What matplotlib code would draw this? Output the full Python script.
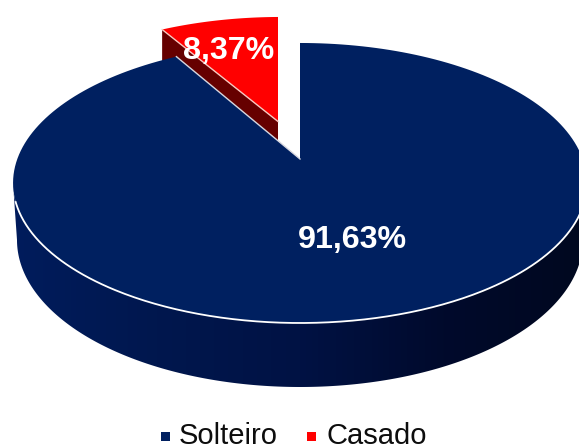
import numpy as np
import matplotlib
matplotlib.use('Agg')
import matplotlib.pyplot as plt
from matplotlib.colors import LinearSegmentedColormap
from matplotlib.patches import Polygon, Rectangle

categories = ['Solteiro', 'Casado']
shares = [91.63, 8.37]
labels = ['91,63%', '8,37%']
colors = ['#002060', '#ff0000']
side_red = '#660000'
side_colors = ['#001c5c', '#00174e', '#001244', '#000a2c', '#00081f']

# perspective of the pie, unit circle -> pixels
APEX_X, APEX_Y = 300.0, 159.0
SCALE_X, SCALE_Y, TILT = 282.7, 135.9, 0.1714
EXPLODE = 0.30


def project(x, y):
    """Unit circle coordinates to pixel coordinates"""
    w = 1 + TILT * y
    return APEX_X + SCALE_X * x / w, APEX_Y - SCALE_Y * y / w


def arc(start, end, dx=0.0, dy=0.0, n=200):
    """Rim points, angles clockwise from 12 o'clock in degrees"""
    t = np.radians(np.linspace(start, end, n))
    return project(np.sin(t) + dx, np.cos(t) + dy)


plt.rcParams['font.family'] = ['Liberation Sans', 'DejaVu Sans']
fig = plt.figure(figsize=(5.79, 4.46), dpi=100)
ax = fig.add_axes([0, 0, 1, 1])
ax.set_xlim(0, 579)
ax.set_ylim(446, 0)
ax.axis('off')

blue_end = shares[0] / 100 * 360

# exploded red slice, side first
mid = np.radians(blue_end + shares[1] / 100 * 180)
off_x, off_y = EXPLODE * np.sin(mid), EXPLODE * np.cos(mid)
ax0, ay0 = project(off_x, off_y)
rx, ry = arc(blue_end, 360, off_x, off_y)
# the right edge of this slice is upright in the reference
ax0 -= 1
rx = np.minimum(rx - 1, ax0)
ry = ry + 1.5
ax.add_patch(Polygon([(rx[0], ry[0]), (ax0, ay0), (ax0, ay0 + 19), (rx[0], ry[0] + 32)],
                     closed=True, fc=side_red, ec='none', zorder=1))
ax.add_patch(Polygon(np.r_[[(ax0, ay0)], np.c_[rx, ry]], closed=True,
                     fc=colors[1], ec='none', zorder=2))
ax.plot([rx[0], ax0], [ry[0], ay0], color='#f8c8c0', lw=1.0, zorder=3)

# wall of the big slice
bx, by = arc(0, blue_end)
cx, cy = 300.0, 183.0
rim_t = np.radians(np.linspace(0, 180, 300))
low_x = cx + 283 * np.cos(rim_t)
low_y = 240 + 147 * np.sin(rim_t)
top_x = cx + 287 * np.cos(rim_t)
top_y = cy + 140 * np.sin(rim_t)
wall = Polygon(np.r_[np.c_[top_x, top_y], np.c_[low_x, low_y][::-1]], closed=True,
               fc='none', ec='none')
ax.add_patch(wall)
cmap = LinearSegmentedColormap.from_list('wall', side_colors[::-1])
grad = ax.imshow(np.linspace(1, 0, 256).reshape(1, -1), cmap=cmap, aspect='auto',
                 extent=(13, 587, 446, 0), vmin=0, vmax=1, zorder=4)
grad.set_clip_path(wall)
ax.set_xlim(0, 579)
ax.set_ylim(446, 0)

# top face of the big slice
ax.add_patch(Polygon(np.r_[[(APEX_X, APEX_Y)], np.c_[bx, by]], closed=True,
                     fc=colors[0], ec='none', zorder=5))
ax.plot(top_x[top_y > 201], top_y[top_y > 201], color='white', lw=1.3, zorder=6)
ax.plot([bx[-1], APEX_X], [by[-1], APEX_Y], color='#d8d8e0', lw=1.0, zorder=6)

ax.text(352.5, 240, labels[0], color='white', fontsize=23.2, fontweight='bold',
        ha='center', va='center', zorder=7)
ax.text(228.5, 51, labels[1], color='white', fontsize=23.2, fontweight='bold',
        ha='center', va='center', zorder=7)

# legend, sits right on the bottom edge like the reference
ax.add_patch(Rectangle((161, 432), 9, 9, fc=colors[0], ec='none'))
ax.text(179, 444, categories[0], fontsize=21, color='#0d0d0d', ha='left', va='baseline')
ax.add_patch(Rectangle((307, 432), 9, 9, fc=colors[1], ec='none'))
ax.text(326, 444, categories[1], fontsize=21, color='#0d0d0d', ha='left', va='baseline')

fig.savefig('out.png', dpi=100)
